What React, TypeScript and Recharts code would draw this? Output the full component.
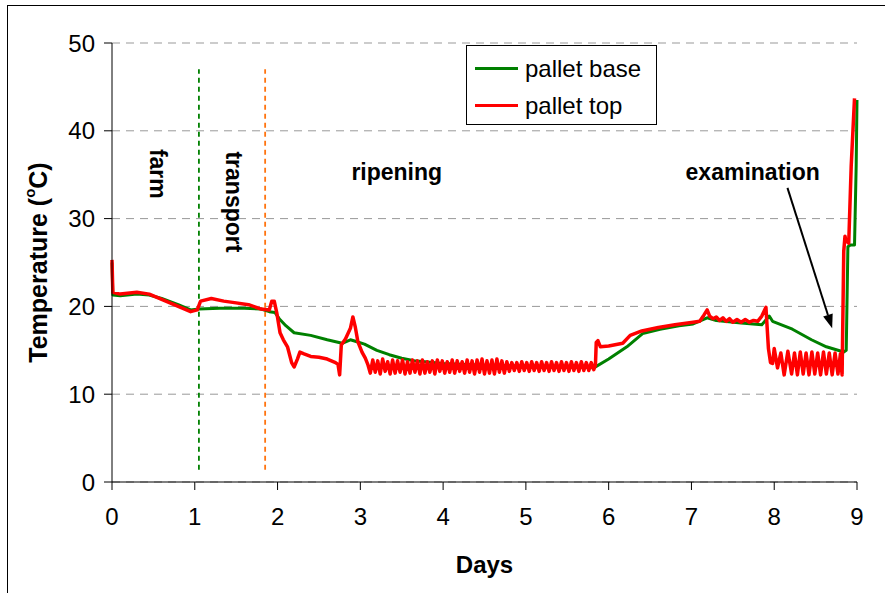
import React from 'react';
import {
  LineChart,
  Line,
  XAxis,
  YAxis,
  CartesianGrid,
  ReferenceLine,
  ReferenceDot,
} from 'recharts';

// ---- data (days, °C) ----
const baseDays = [
  0, 0.01, 0.1, 0.3, 0.45, 0.6, 0.8, 0.95, 1.05, 1.3, 1.6, 1.8, 1.9, 1.97, 2.02, 2.1, 2.2,
  2.4, 2.6, 2.78, 2.88, 2.95, 3.05, 3.2, 3.35, 3.5, 3.65, 4.0, 4.5, 5.0, 5.5, 5.82, 6.0, 6.22,
  6.41, 6.62, 6.85, 7.02, 7.19, 7.3, 7.6, 7.85, 7.94, 7.98, 8.22, 8.45, 8.63, 8.84, 8.87, 8.89,
  8.92, 8.97, 8.99, 9.0,
];
const baseTemps = [
  25.0, 21.3, 21.2, 21.4, 21.3, 20.9, 20.2, 19.6, 19.7, 19.8, 19.8, 19.7, 19.4, 19.3, 18.6,
  17.8, 17.0, 16.7, 16.2, 15.8, 16.2, 16.0, 15.7, 15.0, 14.5, 14.1, 13.8, 13.5, 13.3, 13.2,
  13.1, 13.0, 14.0, 15.4, 16.9, 17.4, 17.8, 18.0, 18.7, 18.4, 18.1, 17.9, 18.9, 18.3, 17.4,
  16.2, 15.4, 14.8, 15.0, 26.8, 27.0, 27.0, 36.0, 43.5,
];

const topDays = [
  0, 0.01, 0.1, 0.3, 0.45, 0.6, 0.8, 0.95, 1.03, 1.07, 1.2, 1.35, 1.5, 1.65, 1.8, 1.9, 1.93,
  1.96, 1.99, 2.03, 2.07, 2.12, 2.17, 2.2, 2.24, 2.27, 2.32, 2.4, 2.5, 2.6, 2.7, 2.73, 2.75,
  2.77, 2.82, 2.88, 2.91, 2.94, 2.97, 3.02, 3.06, 3.09,
  3.12, 3.15, 3.18, 3.21, 3.24, 3.27, 3.3, 3.33, 3.36, 3.39, 3.42, 3.45, 3.48, 3.51, 3.54,
  3.57, 3.6, 3.63, 3.66, 3.69, 3.72, 3.75, 3.78, 3.81, 3.84, 3.87, 3.9, 3.93, 3.96, 3.99,
  4.02, 4.05, 4.08, 4.11, 4.14, 4.17, 4.2, 4.23, 4.26, 4.29, 4.32, 4.35, 4.38, 4.41, 4.44,
  4.47, 4.5, 4.53, 4.56, 4.59, 4.62, 4.65, 4.68, 4.71, 4.74, 4.77, 4.8, 4.83, 4.86, 4.89,
  4.92, 4.95, 4.98, 5.01, 5.04, 5.07, 5.1, 5.13, 5.16, 5.19, 5.22, 5.25, 5.28, 5.31, 5.34,
  5.37, 5.4, 5.43, 5.46, 5.49, 5.52, 5.55, 5.58, 5.61, 5.64, 5.67, 5.7, 5.73, 5.76, 5.79,
  5.82, 5.84, 5.85, 5.87, 5.9, 6.0, 6.17, 6.26, 6.4, 6.6, 6.8, 7.02, 7.1, 7.15, 7.19, 7.22,
  7.26, 7.3, 7.34, 7.38, 7.42, 7.46, 7.5, 7.55, 7.6, 7.65, 7.7, 7.75, 7.8, 7.85, 7.9, 7.93,
  7.955, 7.98, 8.0, 8.04, 8.08, 8.12, 8.165, 8.21, 8.245, 8.28, 8.315, 8.35, 8.385, 8.42,
  8.455, 8.49, 8.525, 8.56, 8.595, 8.63, 8.665, 8.7, 8.735, 8.77, 8.8, 8.82, 8.84, 8.855,
  8.865, 8.9, 8.93, 8.97, 8.99, 9.0,
];
const topTemps = [
  25.3, 21.6, 21.4, 21.6, 21.4, 20.8, 20.0, 19.4, 19.6, 20.6, 20.9, 20.6, 20.4, 20.2, 19.7,
  19.6, 20.6, 20.6, 19.3, 17.0, 16.2, 15.4, 13.6, 13.1, 14.0, 14.8, 14.6, 14.3, 14.2, 14.0,
  13.6, 13.4, 12.2, 15.6, 16.3, 17.5, 18.8, 17.6, 16.0, 14.8, 14.1, 13.4,
  12.4, 13.9, 12.5, 13.8, 12.3, 14.0, 12.6, 13.7, 12.3, 13.9, 12.4, 13.8, 12.5, 13.9, 12.3,
  13.7, 12.4, 13.9, 12.5, 13.8, 12.3, 13.9, 12.4, 13.7, 12.5, 13.8, 12.3, 13.9, 12.6, 13.8,
  12.4, 13.7, 12.5, 13.9, 12.4, 13.8, 12.6, 13.7, 12.4, 13.9, 12.5, 13.8, 12.3, 13.9, 12.5,
  14.0, 12.3, 13.8, 12.4, 13.9, 12.3, 14.0, 12.5, 13.8, 12.4, 13.7, 12.6, 13.6, 12.7, 13.6,
  12.6, 13.7, 12.7, 13.6, 12.6, 13.7, 12.7, 13.6, 12.6, 13.7, 12.7, 13.6, 12.6, 13.7, 12.7,
  13.6, 12.6, 13.7, 12.7, 13.6, 12.6, 13.7, 12.7, 13.6, 12.6, 13.7, 12.7, 13.6, 12.7, 13.6,
  12.8, 13.3, 15.9, 16.1, 15.4, 15.5, 15.8, 16.7, 17.2, 17.6, 17.9, 18.2, 18.3, 19.0, 19.6,
  18.9, 18.6, 18.8, 18.4, 18.7, 18.3, 18.6, 18.2, 18.5, 18.2, 18.5, 18.2, 18.4, 18.3, 18.9,
  19.9, 15.2, 13.6, 13.5, 15.2, 13.0, 14.7, 12.2, 14.9, 12.3, 14.7, 12.2, 14.8, 12.3, 14.7,
  12.2, 14.8, 12.3, 14.7, 12.2, 14.8, 12.3, 14.7, 12.2, 14.7, 12.3, 14.6, 12.2, 26.3, 28.0,
  27.5, 27.2, 36.0, 43.7,
];

const xTicks = [0, 1, 2, 3, 4, 5, 6, 7, 8, 9];
const yTicks = [0, 10, 20, 30, 40, 50];
const seriesNames = ['pallet base', 'pallet top'];
const seriesColors = ['#008000', '#ff0000'];
const phaseLabels = ['farm', 'transport', 'ripening', 'examination'];
const phaseBoundaries = [1.05, 1.85];

const baseData = baseDays.map((d, i) => ({ day: d, temp: baseTemps[i] }));
const topData = topDays.map((d, i) => ({ day: d, temp: topTemps[i] }));

const FONT = '"Liberation Sans", Arial, sans-serif';

const VText = (text: string, size: number) => (props: any) => {
  const { cx, cy } = props;
  return (
    <text
      x={cx}
      y={cy}
      transform={`rotate(90 ${cx} ${cy})`}
      textAnchor="middle"
      dominantBaseline="central"
      fontFamily={FONT}
      fontWeight="bold"
      fontSize={size}
      fill="#000"
    >
      {text}
    </text>
  );
};

const HText = (text: string, size: number) => (props: any) => {
  const { cx, cy } = props;
  return (
    <text
      x={cx}
      y={cy}
      textAnchor="middle"
      dominantBaseline="central"
      fontFamily={FONT}
      fontWeight="bold"
      fontSize={size}
      fill="#000"
    >
      {text}
    </text>
  );
};

const ArrowShape = (props: any) => {
  const { x1, y1, x2, y2 } = props;
  if ([x1, y1, x2, y2].some((v) => v === undefined || isNaN(v))) return null;
  const ang = Math.atan2(y2 - y1, x2 - x1);
  const len = 14;
  const w = 5;
  const bx = x2 - len * Math.cos(ang);
  const by = y2 - len * Math.sin(ang);
  const px = -Math.sin(ang) * w;
  const py = Math.cos(ang) * w;
  return (
    <g>
      <line x1={x1} y1={y1} x2={bx} y2={by} stroke="#000" strokeWidth={2} />
      <polygon points={`${x2},${y2} ${bx + px},${by + py} ${bx - px},${by - py}`} fill="#000" />
    </g>
  );
};

const YLabel = (props: any) => {
  const vb = props.viewBox || {};
  const cx = 38;
  const cy = vb.y + vb.height / 2;
  return (
    <text
      x={cx}
      y={cy}
      transform={`rotate(-90 ${cx} ${cy})`}
      textAnchor="middle"
      dominantBaseline="central"
      fontFamily={FONT}
      fontWeight="bold"
      fontSize={25}
      fill="#000"
    >
      Temperature (
      <tspan fontSize={15} dy={-9}>o</tspan>
      <tspan dy={9}>C)</tspan>
    </text>
  );
};

const XLabel = (props: any) => {
  const vb = props.viewBox || {};
  return (
    <text
      x={vb.x + vb.width / 2}
      y={564}
      textAnchor="middle"
      dominantBaseline="central"
      fontFamily={FONT}
      fontWeight="bold"
      fontSize={24}
      fill="#000"
    >
      Days
    </text>
  );
};

const LegendBox = () => (
  <div
    style={{
      position: 'absolute',
      left: 466,
      top: 45,
      border: '1.5px solid #000',
      background: '#fff',
      width: 191,
      height: 80,
      boxSizing: 'border-box',
      fontFamily: FONT,
      fontSize: 24,
      color: '#000',
      padding: '4px 0 0 8px',
    }}
  >
    {seriesNames.map((n, i) => (
      <div key={n} style={{ display: 'flex', alignItems: 'center', height: 37 }}>
        <div style={{ width: 43, height: 3, background: seriesColors[i], marginRight: 7 }} />
        <span>{n}</span>
      </div>
    ))}
  </div>
);

export default function App() {
  return (
    <div style={{ position: 'absolute', left: 0, top: 0, width: 885, height: 593, background: '#fff', overflow: 'hidden' }}>
      <div
        style={{
          position: 'absolute',
          left: 7,
          top: 5,
          width: 885,
          height: 600,
          borderLeft: '1.5px solid #000',
          borderTop: '1.5px solid #000',
        }}
      />
      <div style={{ position: 'absolute', left: 0, top: 0 }}>
        <LineChart width={885} height={593} margin={{ top: 43, right: 28, bottom: 0, left: 0 }}>
          <CartesianGrid vertical={false} stroke="#999" strokeDasharray="8 6" strokeWidth={1} />
          <XAxis
            dataKey="day"
            type="number"
            domain={[0, 9]}
            ticks={xTicks}
            allowDuplicatedCategory={false}
            axisLine={{ stroke: '#000' }}
            tickLine={{ stroke: '#000' }}
            tickSize={8}
            tickMargin={18}
            height={111}
            tick={{ fill: '#000', fontSize: 24, fontFamily: FONT }}
            label={<XLabel />}
          />
          <YAxis
            type="number"
            domain={[0, 50]}
            ticks={yTicks}
            width={112}
            axisLine={{ stroke: '#000' }}
            tickLine={{ stroke: '#000' }}
            tickSize={8}
            tickMargin={9}
            tick={{ fill: '#000', fontSize: 24, fontFamily: FONT }}
            label={<YLabel />}
          />
          <ReferenceLine
            segment={[{ x: phaseBoundaries[0], y: 1.4 }, { x: phaseBoundaries[0], y: 47 }]}
            stroke="#008000"
            strokeWidth={1.8}
            strokeDasharray="5 4"
          />
          <ReferenceLine
            segment={[{ x: phaseBoundaries[1], y: 1.4 }, { x: phaseBoundaries[1], y: 47 }]}
            stroke="#ff7410"
            strokeWidth={1.8}
            strokeDasharray="5 4"
          />
          <Line
            data={baseData}
            dataKey="temp"
            name={seriesNames[0]}
            stroke={seriesColors[0]}
            strokeWidth={3}
            dot={false}
            isAnimationActive={false}
            strokeLinejoin="round"
          />
          <Line
            data={topData}
            dataKey="temp"
            name={seriesNames[1]}
            stroke={seriesColors[1]}
            strokeWidth={3.5}
            dot={false}
            isAnimationActive={false}
            strokeLinejoin="round"
          />
          <ReferenceLine
            segment={[{ x: 8.16, y: 33.5 }, { x: 8.7, y: 17.5 }]}
            shape={ArrowShape}
          />
          <ReferenceDot x={0.56} y={35.1} r={0} shape={VText(phaseLabels[0], 23)} />
          <ReferenceDot x={1.47} y={31.9} r={0} shape={VText(phaseLabels[1], 23)} />
          <ReferenceDot x={3.44} y={35.3} r={0} shape={HText(phaseLabels[2], 23)} />
          <ReferenceDot x={7.74} y={35.3} r={0} shape={HText(phaseLabels[3], 23)} />
        </LineChart>
      </div>
      <LegendBox />
    </div>
  );
}
